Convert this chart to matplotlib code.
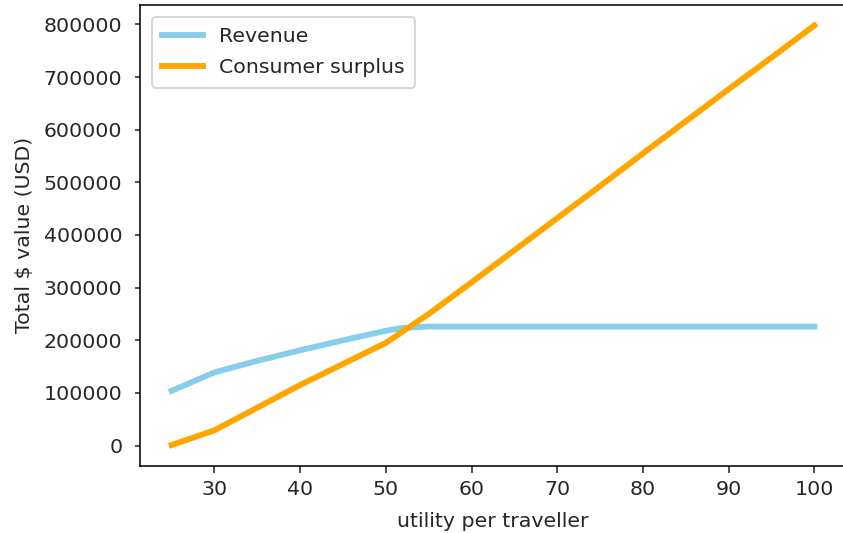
import matplotlib
matplotlib.use("Agg")
import matplotlib.pyplot as plt

utility = [25, 30, 35, 40, 45, 50, 52, 55, 60, 65, 70, 75, 80, 85, 90, 95, 100]
revenue = [104000, 139000, 161000, 181000, 200000, 218000, 223500, 226000, 226000,
           226000, 226000, 226000, 226000, 226000, 226000, 226000, 226000]
surplus = [1000, 29000, 72000, 115000, 155000, 195000, 217000, 250000, 310000,
           371000, 432000, 493000, 555000, 616000, 677000, 737000, 798000]

plt.rcParams["font.size"] = 10.5
plt.rcParams["text.color"] = "#262626"
plt.rcParams["axes.labelcolor"] = "#262626"
plt.rcParams["xtick.color"] = "#262626"
plt.rcParams["ytick.color"] = "#262626"

dpi = 140.5
fig = plt.figure(figsize=(843 / dpi, 533 / dpi), dpi=dpi)
ax = fig.add_axes([139.5 / 843, 67 / 533, 707 / 843, 461.5 / 533])
ax.plot(utility, revenue, color="skyblue", lw=3, label="Revenue")
ax.plot(utility, surplus, color="orange", lw=3, label="Consumer surplus")
ax.tick_params(axis="y", length=2.8, pad=6.0)
ax.tick_params(axis="x", length=3.5, pad=3.5)
ax.set_xlabel("utility per traveller", labelpad=7)
ax.set_ylabel("Total $ value (USD)", labelpad=5)
ax.legend(loc="upper left", labelspacing=0.6, borderpad=0.5, borderaxespad=0.6)
fig.savefig("out.png", dpi=dpi)
